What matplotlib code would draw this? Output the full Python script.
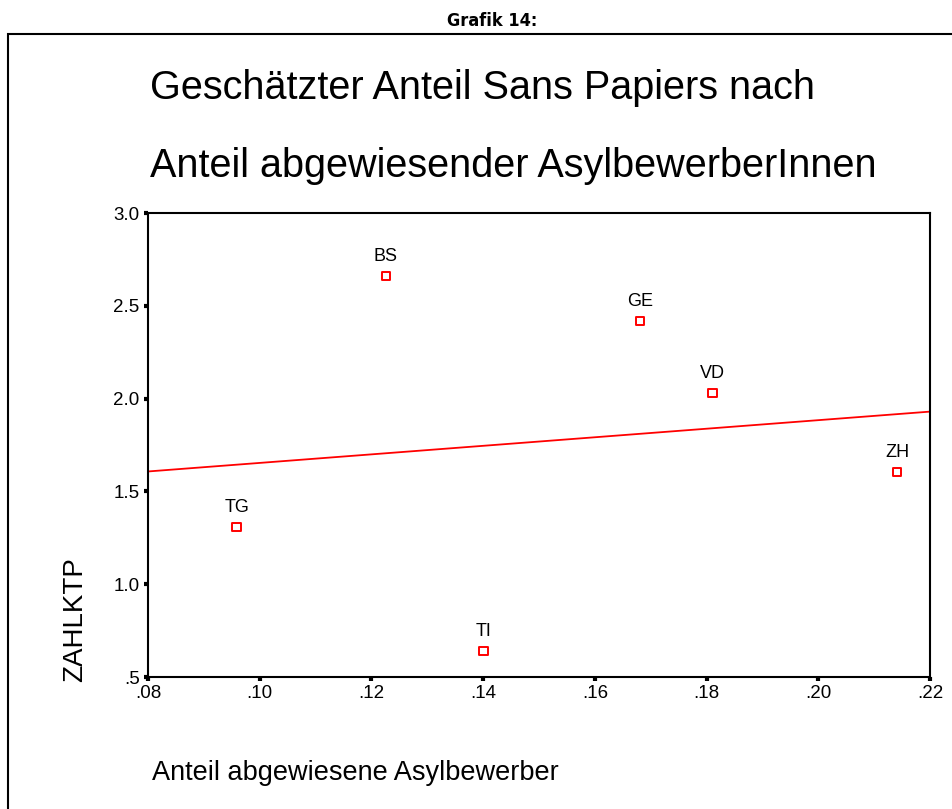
import numpy as np
import matplotlib
matplotlib.use('Agg')
from matplotlib import pyplot as plt
from matplotlib.patches import Rectangle

# Daten
kantone = ['BS', 'GE', 'VD', 'ZH', 'TG', 'TI']
anteil_abgewiesen = [0.1226, 0.1681, 0.1811, 0.2141, 0.0959, 0.1400]
zahlktp = [2.661, 2.418, 2.030, 1.605, 1.308, 0.640]

x_ticks = [0.08, 0.10, 0.12, 0.14, 0.16, 0.18, 0.20, 0.22]
x_ticklabels = ['.08', '.10', '.12', '.14', '.16', '.18', '.20', '.22']
y_ticks = [0.5, 1.0, 1.5, 2.0, 2.5, 3.0]
y_ticklabels = ['.5', '1.0', '1.5', '2.0', '2.5', '3.0']

plt.rcParams['font.family'] = ['Liberation Sans', 'DejaVu Sans']

fig = plt.figure(figsize=(9.52, 8.09), dpi=100)
ax = fig.add_axes([148/952, 1-677/809, (930-148)/952, (677-213)/809])

# Rahmen um die Grafik
fig.patches.append(Rectangle((8/952, -0.1), 1.1, 1-34/809+0.1, transform=fig.transFigure,
                             fill=False, edgecolor='black', linewidth=1.5))
fig.text(492/952, 1-21/809, 'Grafik 14:', ha='center', va='center', fontsize=13, fontweight='bold',
         fontstretch='condensed', family=['DejaVu Sans'])

# Titel
fig.text(150/952, 1-88/809, 'Geschätzter Anteil Sans Papiers nach', ha='left', va='center',
         fontsize=28.5)
fig.text(150/952, 1-166/809, 'Anteil abgewiesender AsylbewerberInnen', ha='left', va='center',
         fontsize=28.5)

# Punkte
ax.scatter(anteil_abgewiesen, zahlktp, marker='s', s=40, facecolors='none', edgecolors='red',
           linewidths=1.4, zorder=3)
for k, xv, yv in zip(kantone, anteil_abgewiesen, zahlktp):
    ax.annotate(k, (xv, yv), xytext=(0, 8), textcoords='offset points', ha='center', va='bottom',
                fontsize=13)

# Regressionsgerade
m, b = np.polyfit(anteil_abgewiesen, zahlktp, 1)
xs = np.array([0.08, 0.22])
ax.plot(xs, m*xs + b, color='red', linewidth=1.3, zorder=2)

ax.set_xlim(0.08, 0.22)
ax.set_ylim(0.5, 3.0)
ax.set_xticks(x_ticks)
ax.set_xticklabels(x_ticklabels)
ax.set_yticks(y_ticks)
ax.set_yticklabels(y_ticklabels)
ax.tick_params(direction='out', length=3, width=3, labelsize=13.5, pad=3)
for s in ax.spines.values():
    s.set_linewidth(1.5)

fig.text(75/952, 1-620/809, 'ZAHLKTP', rotation=90, ha='center', va='center', fontsize=20)
fig.text(152/952, 1-773/809, 'Anteil abgewiesene Asylbewerber', ha='left', va='center',
         fontsize=19.5)

fig.savefig('out.png', dpi=100)
